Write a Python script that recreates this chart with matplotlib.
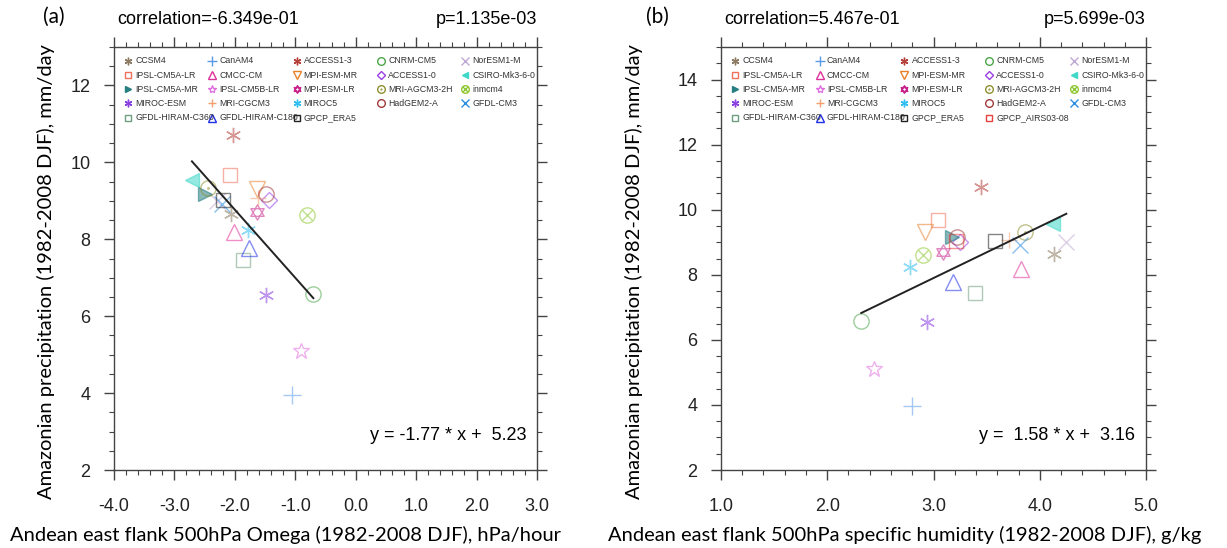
import numpy as np
import matplotlib.pyplot as plt
from matplotlib.path import Path
from matplotlib.ticker import MultipleLocator, FormatStrFormatter

plt.rcParams['axes.unicode_minus'] = False

# --- data --- #
models = ['CCSM4', 'CanAM4', 'ACCESS1-3', 'CNRM-CM5', 'NorESM1-M',
          'IPSL-CM5A-LR', 'CMCC-CM', 'MPI-ESM-MR', 'ACCESS1-0', 'CSIRO-Mk3-6-0',
          'IPSL-CM5A-MR', 'IPSL-CM5B-LR', 'MPI-ESM-LR', 'MRI-AGCM3-2H', 'inmcm4',
          'MIROC-ESM', 'MRI-CGCM3', 'MIROC5', 'HadGEM2-A', 'GFDL-CM3',
          'GFDL-HIRAM-C360', 'GFDL-HIRAM-C180', 'GPCP_ERA5', 'GPCP_AIRS03-08']

# Amazonian precipitation (mm/day), same for both panels
precip = [8.65, 3.96, 10.71, 6.58, 9.00,
          9.68, 8.18, 9.30, 9.01, 9.55,
          9.17, 5.10, 8.70, 9.33, 8.62,
          6.55, 9.08, 8.23, 9.17, 8.91,
          7.45, 7.78, 9.03, 9.03]

# (a) 500hPa omega (hPa/hour), no entry for GPCP_AIRS03-08
omega = [-2.07, -1.05, -2.03, -0.70, -2.30,
         -2.08, -2.01, -1.64, -1.44, -2.71,
         -2.49, -0.91, -1.63, -2.44, -0.80,
         -1.48, -1.62, -1.78, -1.49, -2.22,
         -1.86, -1.76, -2.19]

# (b) 500hPa specific humidity (g/kg)
shum = [4.13, 2.80, 3.45, 2.32, 4.25,
        3.04, 3.82, 2.92, 3.25, 4.12,
        3.17, 2.44, 3.09, 3.86, 2.90,
        2.94, 3.71, 2.78, 3.22, 3.81,
        3.39, 3.18, 3.58, 3.21]

corr = [-6.349e-01, 5.467e-01]
pval = [1.135e-03, 5.699e-03]
slope = [-1.77, 1.58]
icept = [5.23, 3.16]

# --- marker shapes --- #
circ = Path.unit_circle()
circle_dot = Path.make_compound_path(circ, Path.circle((0, 0), 0.1))
xlines = Path([(-0.7, -0.7), (0.7, 0.7), (-0.7, 0.7), (0.7, -0.7)],
              [Path.MOVETO, Path.LINETO, Path.MOVETO, Path.LINETO])
circle_x = Path.make_compound_path(circ, xlines)
ang_up = np.deg2rad([90, 210, 330, 90])
ang_dn = np.deg2rad([270, 30, 150, 270])
hexagram = Path.make_compound_path(
    Path(np.c_[np.cos(ang_up), np.sin(ang_up)], closed=True),
    Path(np.c_[np.cos(ang_dn), np.sin(ang_dn)], closed=True))
aster = (6, 2, 0)

# marker, colour, filled, size
styles = {
    'CCSM4': (aster, '#8c7b62', False, 11),
    'CanAM4': ('+', '#5a9bea', False, 13),
    'ACCESS1-3': (aster, '#b5403a', False, 11),
    'CNRM-CM5': ('o', '#4ca64c', False, 11),
    'NorESM1-M': ('x', '#c0a8d4', False, 11),
    'IPSL-CM5A-LR': ('s', '#f0705a', False, 10),
    'CMCC-CM': ('^', '#e0309a', False, 11),
    'MPI-ESM-MR': ('v', '#e8822a', False, 11),
    'ACCESS1-0': ('D', '#9b3fe8', False, 8),
    'CSIRO-Mk3-6-0': ('<', '#40d8c8', True, 10),
    'IPSL-CM5A-MR': ('>', '#267f80', True, 10),
    'IPSL-CM5B-LR': ('*', '#e070e0', False, 12),
    'MPI-ESM-LR': (hexagram, '#c8248c', False, 11),
    'MRI-AGCM3-2H': (circle_dot, '#8f8f30', False, 11),
    'inmcm4': (circle_x, '#8fc832', False, 11),
    'MIROC-ESM': (aster, '#8a3fe0', False, 11),
    'MRI-CGCM3': ('+', '#f4a070', False, 12),
    'MIROC5': (aster, '#30bff0', False, 11),
    'HadGEM2-A': ('o', '#a03a3a', False, 11),
    'GFDL-CM3': ('x', '#2c8ce0', False, 11),
    'GFDL-HIRAM-C360': ('s', '#6e9e80', False, 10),
    'GFDL-HIRAM-C180': ('^', '#2030e8', False, 11),
    'GPCP_ERA5': ('s', '#202020', False, 10),
    'GPCP_AIRS03-08': ('s', '#e84040', False, 10),
}

NCL_FONT = 'Liberation Sans'
WORD_FONT = 'Lato'

fig = plt.figure(figsize=(12.27, 5.48), dpi=100)
ax_a = fig.add_axes([0.0929, 0.1423, 0.3447, 0.7719])
ax_b = fig.add_axes([0.5876, 0.1423, 0.3464, 0.7719])


def draw_panel(ax, xvals, names, k, xlim, ylim):
    yvals = precip[:len(names)]
    for name, xv, yv in zip(names, xvals, yvals):
        m, c, filled, ms = styles[name]
        ax.plot([xv], [yv], linestyle='none', marker=m, ms=ms, mew=1.0,
                mec=c, mfc=c if filled else 'none', alpha=0.55, zorder=3)

    # regression line across the x range of the points
    xl = np.array([min(xvals), max(xvals)])
    ax.plot(xl, slope[k] * xl + icept[k], color='#222222', lw=1.4, zorder=4)

    # legend, row by row, 5 columns
    for i, name in enumerate(names):
        r, c = divmod(i, 5)
        lx = 0.033 + 0.1993 * c
        ly = 0.967 - 0.0335 * r
        m, col, filled, ms = styles[name]
        ax.plot([lx], [ly], transform=ax.transAxes, linestyle='none', marker=m,
                ms=ms * 0.5, mew=1.0, mec=col, mfc=col if filled else 'none',
                clip_on=False)
        ax.text(lx + 0.017, ly, name, transform=ax.transAxes, fontsize=6.3,
                family=NCL_FONT, color='#333333', va='center', ha='left')

    ax.set_xlim(*xlim)
    ax.set_ylim(*ylim)
    ax.xaxis.set_major_locator(MultipleLocator(1.0))
    ax.xaxis.set_minor_locator(MultipleLocator(0.2))
    ax.xaxis.set_major_formatter(FormatStrFormatter('%.1f'))
    ax.yaxis.set_major_locator(MultipleLocator(2))
    ax.yaxis.set_minor_locator(MultipleLocator(0.5))
    ax.tick_params(which='both', direction='out', top=True, right=True,
                   colors='#444444', labelcolor='#222222', labelsize=13)
    ax.tick_params(which='major', length=7, width=1.0)
    ax.tick_params(which='minor', length=3.5, width=0.8)
    ax.tick_params(axis='x', pad=13)
    ax.tick_params(axis='y', pad=10)
    for lab in ax.get_xticklabels() + ax.get_yticklabels():
        lab.set_family(NCL_FONT)
    for s in ax.spines.values():
        s.set_color('#444444')
        s.set_linewidth(1.0)

    ax.text(0.007, 1.066, 'correlation=%.3e' % corr[k], transform=ax.transAxes,
            fontsize=13, family=NCL_FONT, va='center', ha='left')
    ax.text(1.0, 1.066, 'p=%.3e' % pval[k], transform=ax.transAxes,
            fontsize=13, family=NCL_FONT, va='center', ha='right')
    ax.text(0.975, 0.082, 'y = %5.2f * x + %5.2f' % (slope[k], icept[k]),
            transform=ax.transAxes, fontsize=13, family=NCL_FONT,
            va='center', ha='right')


draw_panel(ax_a, omega, models[:23], 0, (-4.0, 3.0), (2, 13))
draw_panel(ax_b, shum, models, 1, (1.0, 5.0), (2, 15))

# labels placed like the pasted panels
ylab = 'Amazonian precipitation (1982-2008 DJF), mm/day'
fig.text(46 / 1227, 1 - 272 / 548, ylab, rotation=90, fontsize=14.5,
         family=WORD_FONT, ha='center', va='center')
fig.text(634 / 1227, 1 - 272 / 548, ylab, rotation=90, fontsize=14.5,
         family=WORD_FONT, ha='center', va='center')
fig.text(285 / 1227, 1 - 535 / 548,
         'Andean east flank 500hPa Omega (1982-2008 DJF), hPa/hour',
         fontsize=14.5, family=WORD_FONT, ha='center', va='center')
fig.text(905 / 1227, 1 - 535 / 548,
         'Andean east flank 500hPa specific humidity (1982-2008 DJF), g/kg',
         fontsize=14.5, family=WORD_FONT, ha='center', va='center')
fig.text(54 / 1227, 1 - 17 / 548, '(a)', fontsize=15, family=WORD_FONT,
         ha='center', va='center')
fig.text(657 / 1227, 1 - 17 / 548, '(b)', fontsize=15, family=WORD_FONT,
         ha='center', va='center')

fig.savefig('out.png', dpi=100)
